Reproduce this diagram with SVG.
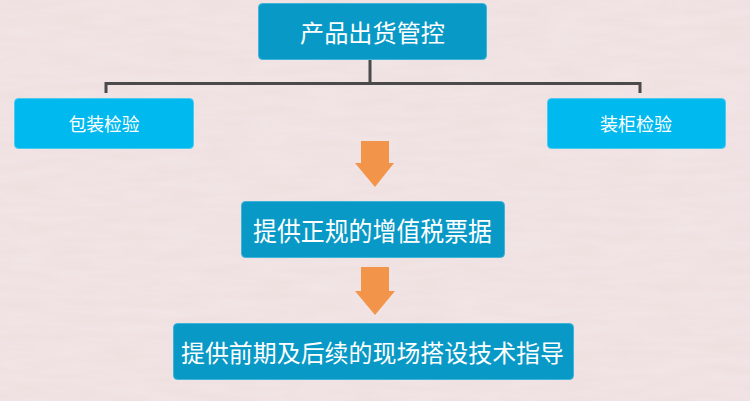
<svg xmlns="http://www.w3.org/2000/svg" width="750" height="401" viewBox="0 0 750 401">
<defs>
<style>
.dark{fill:#0899c6;stroke:#3fb4d8;stroke-width:1}
.light{fill:#00b9ef;stroke:#4cc9ef;stroke-width:1}
.t{fill:#ffffff;font-family:"Noto Sans CJK SC","Noto Sans",sans-serif;text-anchor:middle;dominant-baseline:central}
.conn{fill:none;stroke:#4a4a4a;stroke-width:3}
.arrow{fill:#f2944a}
</style>
<filter id="tex" x="0" y="0" width="100%" height="100%">
<feTurbulence type="fractalNoise" baseFrequency="0.02 0.12" numOctaves="3" seed="4" result="n"/>
<feColorMatrix in="n" type="matrix" values="0 0 0 0 0.96  0 0 0 0 0.90  0 0 0 0 0.90  0 0 0 0.35 -0.05"/>
</filter>
</defs>
<rect width="750" height="401" fill="#efe0e0"/>
<rect width="750" height="401" filter="url(#tex)"/>
<g id="connectors">
<path class="conn" d="M370 59 V83.5 M106 93 V83.5 H640 V93"/>
<path class="arrow" d="M361 141 H389 V163 H394 L375 187 L355 163 H361 Z"/>
<path class="arrow" d="M361 267 H389 V291 H395 L375 315 L355 291 H361 Z"/>
</g>
<g id="node-top">
<rect class="dark" x="258.5" y="3.5" width="228" height="56" rx="4"/>
<text class="t" x="372.5" y="31" font-size="24" textLength="145" lengthAdjust="spacingAndGlyphs">产品出货管控</text>
</g>
<g id="node-left">
<rect class="light" x="14.5" y="98.5" width="179" height="50" rx="4"/>
<text class="t" x="104" y="123" font-size="18" textLength="71" lengthAdjust="spacingAndGlyphs">包装检验</text>
</g>
<g id="node-right">
<rect class="light" x="547.5" y="98.5" width="178" height="50" rx="4"/>
<text class="t" x="636" y="123" font-size="18" textLength="72" lengthAdjust="spacingAndGlyphs">装柜检验</text>
</g>
<g id="node-invoice">
<rect class="dark" x="241.5" y="201.5" width="263" height="56" rx="4"/>
<text class="t" x="372.5" y="229" font-size="26" textLength="239" lengthAdjust="spacingAndGlyphs">提供正规的增值税票据</text>
</g>
<g id="node-guide">
<rect class="dark" x="173.5" y="323.5" width="400" height="56" rx="4"/>
<text class="t" x="372.5" y="351" font-size="24" textLength="383" lengthAdjust="spacingAndGlyphs">提供前期及后续的现场搭设技术指导</text>
</g>
</svg>
